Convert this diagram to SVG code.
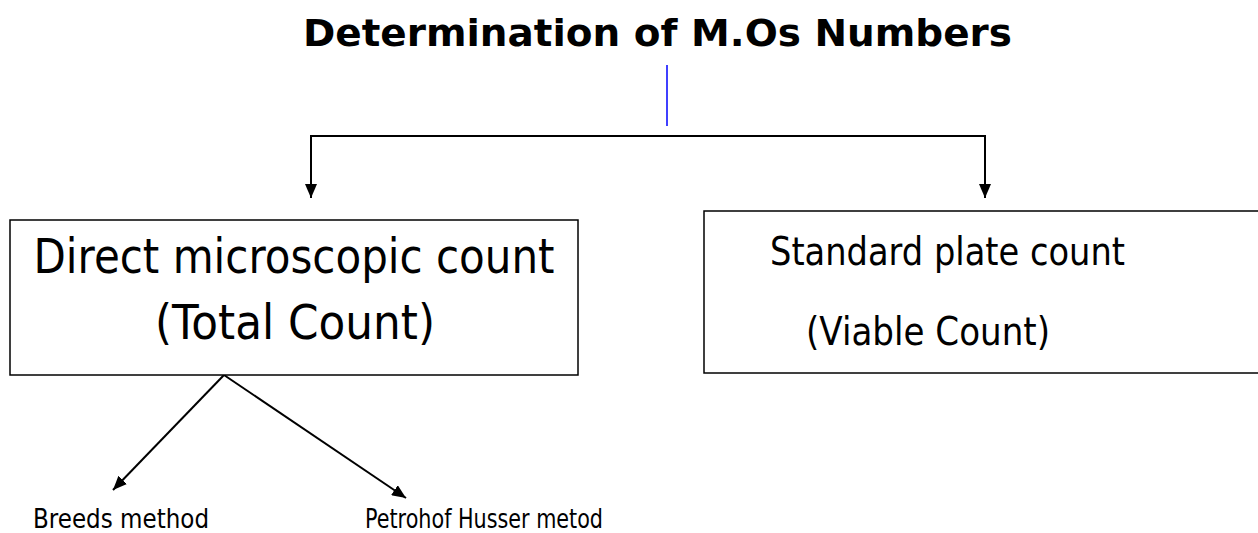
<svg xmlns="http://www.w3.org/2000/svg" width="1258" height="533" viewBox="0 0 1258 533">
<style>
text{font-family:"DejaVu Sans","Liberation Sans",sans-serif;fill:#000}
.t{font-size:38px;font-weight:bold}
.b{font-size:48px}
.m{font-size:38.5px}
.s{font-size:26px}
.box{fill:#fff;stroke:#000;stroke-width:1.5}
.c{fill:none;stroke:#000;stroke-width:2}
</style>
<defs>
<marker id="ah" viewBox="0 0 14 12" refX="14" refY="6" markerWidth="14" markerHeight="12" markerUnits="userSpaceOnUse" orient="auto"><path d="M0,0 L14,6 L0,12 z" fill="#000"/></marker>
</defs>
<g id="title"><text class="t" x="657.5" y="46" text-anchor="middle" textLength="709" lengthAdjust="spacingAndGlyphs">Determination of M.Os Numbers</text></g>
<g id="connectors">
<line x1="667" y1="65" x2="667" y2="126" stroke="#0000ff" stroke-width="1.5"/>
<line class="c" x1="311" y1="136" x2="985" y2="136"/>
<line class="c" x1="311" y1="135" x2="311" y2="198" marker-end="url(#ah)"/>
<line class="c" x1="985" y1="135" x2="985" y2="198" marker-end="url(#ah)"/>
<line class="c" x1="224" y1="375" x2="113" y2="490" marker-end="url(#ah)"/>
<line class="c" x1="224" y1="375" x2="406" y2="498" marker-end="url(#ah)"/>
</g>
<g id="direct">
<rect class="box" x="10" y="220" width="568" height="155"/>
<text class="b" x="294" y="273" text-anchor="middle" textLength="521" lengthAdjust="spacingAndGlyphs">Direct microscopic count</text>
<text class="b" x="295" y="339" text-anchor="middle" textLength="280" lengthAdjust="spacingAndGlyphs">(Total Count)</text>
</g>
<g id="standard">
<rect class="box" x="704" y="211" width="560" height="162"/>
<text class="m" x="770" y="265" textLength="355" lengthAdjust="spacingAndGlyphs">Standard plate count</text>
<text class="m" x="806" y="345" textLength="244" lengthAdjust="spacingAndGlyphs">(Viable Count)</text>
</g>
<g id="breeds"><text class="s" x="33" y="528" textLength="176" lengthAdjust="spacingAndGlyphs">Breeds method</text></g>
<g id="petrohof"><text class="s" x="365" y="528" textLength="238" lengthAdjust="spacingAndGlyphs">Petrohof Husser metod</text></g>
</svg>
